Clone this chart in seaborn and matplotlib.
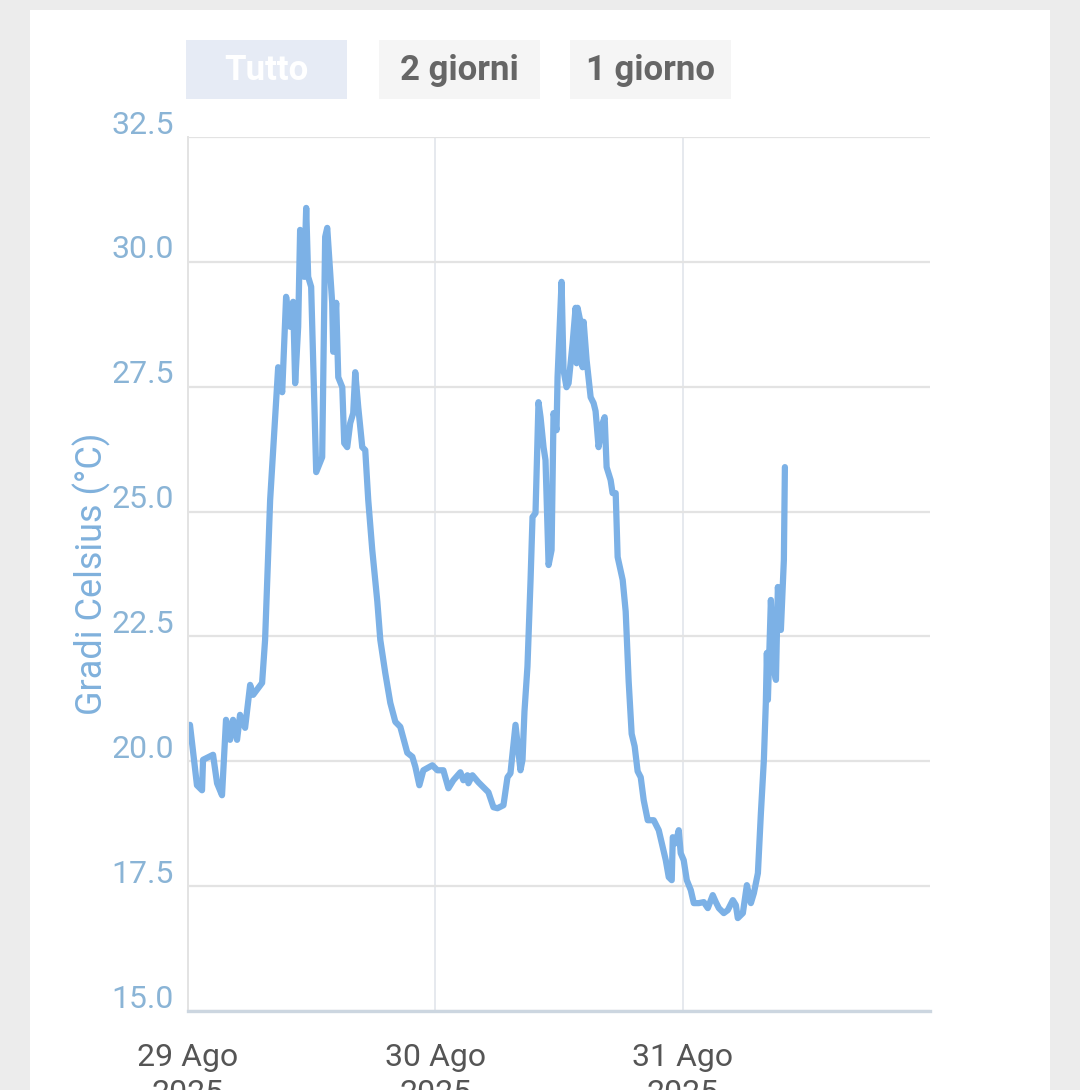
import pandas as pd
import numpy as np
import matplotlib.pyplot as plt
import matplotlib as mpl
import seaborn as sns

# hours since 29 Ago 2025 00:00 and temperature (°C)
hours = [0.19, 0.87, 1.36, 1.46, 2.43, 2.82, 3.30, 3.69, 4.08, 4.37, 4.76, 5.05, 5.54, 6.03, 6.32,
         7.19, 7.48, 7.97, 8.75, 9.14, 9.52, 9.91, 10.20, 10.40, 10.69, 10.88, 11.27, 11.47, 11.66,
         11.95, 12.44, 13.02, 13.31, 13.51, 13.99, 14.09, 14.38, 14.58, 14.97, 15.16, 15.45, 15.74,
         16.03, 16.23, 16.52, 16.91, 17.20, 17.49, 17.88, 18.37, 18.66, 19.14, 19.63, 20.12, 20.60,
         21.28, 21.77, 22.06, 22.45, 22.84, 23.71, 24.20, 24.78, 25.27, 25.75, 26.43, 26.72, 27.11,
         27.21, 27.60, 28.18, 28.67, 29.15, 29.64, 30.03, 30.61, 31.00, 31.29, 31.78, 32.26, 32.46,
         32.65, 32.94, 33.24, 33.43, 33.72, 34.01, 34.21, 34.50, 34.69, 34.99, 35.28, 35.47, 35.76,
         35.86, 36.25, 36.44, 36.73, 36.93, 37.32, 37.61, 37.71, 37.80, 38.10, 38.29, 38.39, 38.68,
         38.87, 39.07, 39.36, 39.55, 39.84, 40.23, 40.43, 40.62, 41.01, 41.20, 41.50, 41.69, 42.18,
         42.47, 42.76, 43.05, 43.34, 43.63, 43.93, 44.22, 44.61, 45.19, 45.68, 46.06, 46.36, 46.65,
         46.94, 47.04, 47.33, 47.62, 47.81, 48.10, 48.40, 48.79, 49.08, 49.56, 50.05, 50.44, 50.92,
         51.22, 51.51, 51.99, 52.38, 52.87, 53.16, 53.35, 53.84, 54.23, 54.62, 54.91, 55.30, 55.59,
         55.88, 56.07, 56.17, 56.27, 56.56, 56.85, 57.05, 57.24, 57.53, 57.82, 57.92]
temps = [20.73, 19.52, 19.42, 20.03, 20.13, 19.56, 19.32, 20.83, 20.43, 20.83, 20.43, 20.93, 20.67,
         21.53, 21.33, 21.57, 22.43, 25.23, 27.89, 27.39, 29.30, 28.70, 29.20, 27.57, 28.70, 30.64,
         29.70, 31.08, 29.70, 29.50, 25.79, 26.09, 30.50, 30.68, 29.18, 28.20, 29.18, 27.69, 27.49,
         26.37, 26.29, 26.77, 26.97, 27.79, 27.09, 26.29, 26.23, 25.23, 24.23, 23.20, 22.43, 21.77,
         21.17, 20.79, 20.69, 20.17, 20.09, 19.89, 19.52, 19.82, 19.92, 19.82, 19.82, 19.46, 19.62,
         19.78, 19.62, 19.72, 19.56, 19.72, 19.58, 19.48, 19.38, 19.08, 19.06, 19.12, 19.68, 19.76,
         20.73, 19.82, 20.03, 21.00, 21.90, 23.63, 24.89, 24.97, 27.19, 26.89, 26.29, 26.03, 23.93,
         24.23, 26.97, 26.63, 27.69, 29.60, 27.83, 27.49, 27.57, 28.37, 29.08, 27.97, 29.08, 28.78,
         27.89, 28.80, 28.03, 27.67, 27.29, 27.17, 27.01, 26.29, 26.77, 26.89, 25.89, 25.63, 25.37,
         25.37, 24.09, 23.63, 23.00, 21.60, 20.55, 20.30, 19.80, 19.68, 19.22, 18.82, 18.82, 18.62,
         18.28, 18.02, 17.68, 17.62, 18.48, 18.36, 18.62, 18.16, 18.02, 17.62, 17.42, 17.16, 17.16,
         17.18, 17.06, 17.32, 17.18, 17.06, 16.96, 17.02, 17.22, 17.12, 16.86, 16.96, 17.52, 17.16,
         17.36, 17.76, 18.96, 20.03, 21.17, 22.17, 21.23, 23.23, 21.83, 21.63, 23.49, 22.63, 24.03,
         25.89]

day_ticks = ["2025-08-29", "2025-08-30", "2025-08-31"]
day_labels = ["29 Ago\n2025", "30 Ago\n2025", "31 Ago\n2025"]
y_ticks = [15.0, 17.5, 20.0, 22.5, 25.0, 27.5, 30.0, 32.5]
buttons = ["Tutto", "2 giorni", "1 giorno"]

sns.set_style("white")
plt.rcParams['font.family'] = ['Roboto', 'DejaVu Sans']

start = pd.Timestamp("2025-08-29")
df = pd.DataFrame({"time": start + pd.to_timedelta(hours, unit="h"), "temp": temps})

fig = plt.figure(figsize=(10.8, 10.9), dpi=100)
fig.patch.set_facecolor("#ececec")
# white card behind everything
fig.patches.append(mpl.patches.Rectangle((30 / 1080, 0), 1020 / 1080, 1 - 10 / 1090,
                                         transform=fig.transFigure, facecolor="white",
                                         edgecolor="none", zorder=-5))

ax = fig.add_axes([188 / 1080, 1 - 1011 / 1090, 742 / 1080, 874 / 1090])
ax.set_zorder(5)
ax.patch.set_alpha(0)
sns.lineplot(data=df, x="time", y="temp", color="#7cb1e6", linewidth=4.5, ax=ax)

ax.set_xlim(start, start + pd.Timedelta(days=3))
ax.set_ylim(15.0, 32.5)
ax.set_yticks(y_ticks)
ax.set_yticklabels([f"{v:.1f}" for v in y_ticks])
ax.set_xticks(pd.to_datetime(day_ticks))
ax.set_xticklabels(day_labels, linespacing=1.3)

ax.grid(True, axis="y", color="#e3e3e3", linewidth=1.6)
ax.grid(True, axis="x", color="#e6e9ee", linewidth=1.4)
ax.set_axisbelow(True)
ax.tick_params(axis="y", length=0, pad=10, labelsize=23, labelcolor="#8ab4d6")
ax.tick_params(axis="x", length=20, width=1.4, color="#d5dee8", pad=3, labelsize=23,
               labelcolor="#555555")

# y labels sit just above their gridline
shift = mpl.transforms.ScaledTranslation(0, 0.15, fig.dpi_scale_trans)
for lbl in ax.get_yticklabels():
    lbl.set_transform(lbl.get_transform() + shift)

for s in ["top", "right"]:
    ax.spines[s].set_visible(False)
ax.spines["left"].set_color("#e3e3e3")
ax.spines["left"].set_linewidth(1.4)
ax.spines["bottom"].set_color("#ccd6e0")
ax.spines["bottom"].set_linewidth(2.4)

ax.set_xlabel("")
ax.set_ylabel("Gradi Celsius (°C)", fontsize=26, color="#80b1dc", labelpad=0)

# range buttons
box_x = [186, 379, 570]
box_fc = ["#e6ebf5", "#f5f5f5", "#f5f5f5"]
txt_c = ["white", "#666666", "#666666"]
for lab, x0, fc, tc in zip(buttons, box_x, box_fc, txt_c):
    fig.patches.append(mpl.patches.Rectangle((x0 / 1080, 1 - 99 / 1090), 161 / 1080, 59 / 1090,
                                             transform=fig.transFigure, facecolor=fc,
                                             edgecolor="none", zorder=1))
    fig.text((x0 + 80) / 1080, 1 - 70 / 1090, lab, ha="center", va="center", fontsize=25,
             fontweight="bold", color=tc, zorder=2)

plt.savefig("out.png", dpi=100, facecolor=fig.get_facecolor())
